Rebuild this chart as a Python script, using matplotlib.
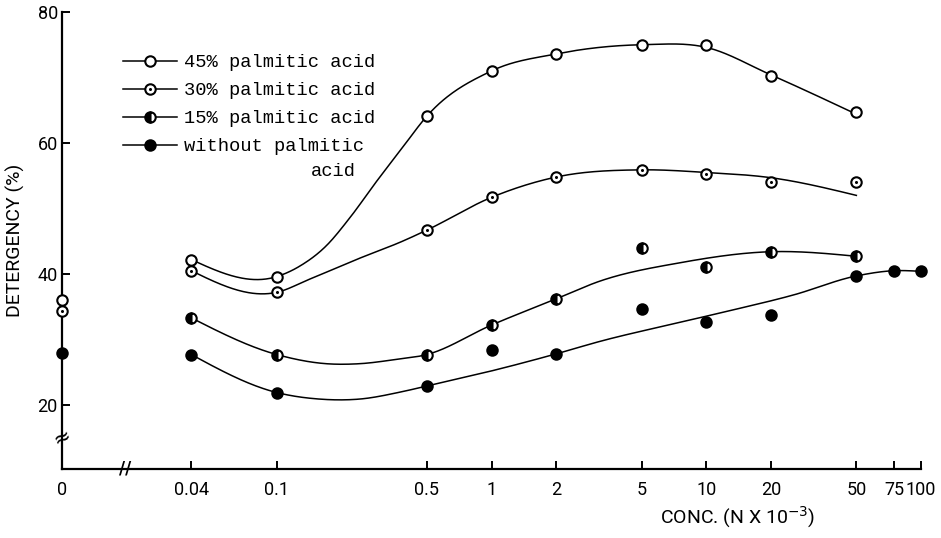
import numpy as np
import matplotlib
matplotlib.use("Agg")
import matplotlib.pyplot as plt
from matplotlib.lines import Line2D

# ---------------- data ----------------
conc = [0, 0.04, 0.1, 0.5, 1, 2, 5, 10, 20, 50]
conc_15 = [0.04, 0.1, 0.5, 1, 2, 5, 10, 20, 50]
conc_0 = [0, 0.04, 0.1, 0.5, 1, 2, 5, 10, 20, 50, 75, 100]

det_45 = [36.0, 42.2, 39.6, 64.1, 71.0, 73.6, 75.0, 74.9, 70.2, 64.7]
det_30 = [34.4, 40.5, 37.2, 46.7, 51.7, 54.8, 55.9, 55.3, 54.0, 54.0]
det_15 = [33.3, 27.7, 27.7, 32.2, 36.2, 43.9, 41.0, 43.4, 42.7]
det_0 = [28.0, 27.7, 21.9, 22.9, 28.4, 27.8, 34.6, 32.6, 33.8, 39.7, 40.5, 40.4]

# hand-drawn trend curves
curve45_x = [0.04, 0.1, 0.128, 0.17, 0.218, 0.291, 0.385, 0.5, 1, 2, 3.19, 5, 10, 20, 50]
curve45_y = [42.2, 39.6, 41.2, 44.3, 48.5, 54.1, 59.3, 64.1, 71.0, 73.6, 74.6, 75.0, 74.6, 70.4, 64.4]
curve30_x = [0.04, 0.1, 0.142, 0.243, 0.385, 0.5, 1, 2, 5, 10, 20, 50]
curve30_y = [40.5, 37.2, 39.2, 42.4, 45.0, 46.7, 51.7, 54.8, 55.9, 55.5, 54.7, 52.0]
curve15_x = [0.04, 0.1, 0.17, 0.243, 0.35, 0.5, 1, 2, 3.19, 7.5, 20, 50]
curve15_y = [33.3, 27.7, 26.3, 26.3, 26.9, 27.7, 32.2, 36.2, 38.9, 41.7, 43.4, 42.7]
curve0_x = [0.04, 0.1, 0.158, 0.243, 0.38, 0.5, 1, 2, 3.19, 7.5, 12.5, 25.5, 50, 75, 100]
curve0_y = [27.7, 21.9, 20.9, 20.9, 22.0, 22.9, 25.2, 27.8, 29.7, 32.6, 34.3, 36.8, 39.7, 40.5, 40.4]

xtick_vals = [0, 0.04, 0.1, 0.5, 1, 2, 5, 10, 20, 50, 75, 100]
xtick_labels = ["0", "0.04", "0.1", "0.5", "1", "2", "5", "10", "20", "50", "75", "100"]
ytick_vals = [20, 40, 60, 80]

labels = ["45% palmitic acid", "30% palmitic acid", "15% palmitic acid", "without palmitic"]

# position on the (broken) log axis where concentration 0 is drawn
ZERO_AT = 0.01
AXFONT = ["Roboto", "DejaVu Sans"]
MONO = ["Liberation Mono", "DejaVu Sans Mono"]


def xpos(c):
    c = np.asarray(c, dtype=float)
    return np.where(c == 0, ZERO_AT, c)


def smooth(xk, yk, n=500):
    """Cubic Hermite curve through knots (log-x), three-point slopes."""
    u = np.log10(np.asarray(xk, float))
    y = np.asarray(yk, float)
    h = np.diff(u)
    d = np.diff(y) / h
    m = np.zeros_like(y)
    for i in range(1, len(y) - 1):
        m[i] = (h[i] * d[i - 1] + h[i - 1] * d[i]) / (h[i - 1] + h[i])
    m[0] = 1.5 * d[0] - 0.5 * m[1]
    m[-1] = 1.5 * d[-1] - 0.5 * m[-2]
    uu = np.linspace(u[0], u[-1], n)
    idx = np.clip(np.searchsorted(u, uu) - 1, 0, len(h) - 1)
    t = (uu - u[idx]) / h[idx]
    h00 = 2 * t**3 - 3 * t**2 + 1
    h10 = t**3 - 2 * t**2 + t
    h01 = -2 * t**3 + 3 * t**2
    h11 = t**3 - t**2
    yy = h00 * y[idx] + h10 * h[idx] * m[idx] + h01 * y[idx + 1] + h11 * h[idx] * m[idx + 1]
    return 10**uu, yy


fig = plt.figure(figsize=(9.41, 5.38), dpi=100)
ax = fig.add_axes([62 / 941, 1 - 468.5 / 538, 859 / 941, (468.5 - 12) / 538])
ax.set_xscale("log")
ax.set_xlim(0.01, 100)
ax.set_ylim(10.3, 80)

lw = 1.1
for cx, cy in [(curve45_x, curve45_y), (curve30_x, curve30_y),
               (curve15_x, curve15_y), (curve0_x, curve0_y)]:
    sx, sy = smooth(cx, cy)
    ax.plot(sx, sy, color="black", lw=lw, zorder=2)

ms = 7.5
mew = 1.5
st45 = dict(marker="o", ms=ms, mfc="white", mec="black", mew=mew, ls="none")
st30 = dict(marker="o", ms=ms, mfc="white", mec="black", mew=mew, ls="none")
st30dot = dict(marker="o", ms=2.2, mfc="black", mec="black", mew=0, ls="none")
st15 = dict(marker="o", ms=ms, mfc="black", mfcalt="white", fillstyle="left",
            mec="black", mew=mew, ls="none")
st0 = dict(marker="o", ms=ms, mfc="black", mec="black", mew=mew, ls="none")

ax.plot(xpos(conc), det_45, clip_on=False, zorder=3, **st45)
ax.plot(xpos(conc), det_30, clip_on=False, zorder=3, **st30)
ax.plot(xpos(conc), det_30, clip_on=False, zorder=4, **st30dot)
ax.plot(xpos(conc_15), det_15, clip_on=False, zorder=3, **st15)
ax.plot(xpos(conc_0), det_0, clip_on=False, zorder=3, **st0)

# axes styling
for s in ["top", "right"]:
    ax.spines[s].set_visible(False)
for s in ["left", "bottom"]:
    ax.spines[s].set_linewidth(1.6)

ax.xaxis.set_minor_locator(matplotlib.ticker.NullLocator())
ax.set_xticks(xpos(xtick_vals))
ax.set_xticklabels(xtick_labels)
ax.set_yticks(ytick_vals)
ax.tick_params(axis="both", direction="in", length=6, width=1.4, labelsize=13,
               colors="black")
ax.tick_params(axis="x", pad=9)
ax.tick_params(axis="y", pad=3)
for lab in ax.get_xticklabels() + ax.get_yticklabels():
    lab.set_family(AXFONT)

ax.set_ylabel("DETERGENCY (%)", fontsize=14, family=AXFONT)
ax.yaxis.set_label_coords(-0.043, 0.5)
ax.set_xlabel(r"CONC. (N X 10$^{-3}$)", fontsize=14, family=AXFONT)
ax.xaxis.set_label_coords(0.787, -0.08)

# axis break marks
ax.text(ZERO_AT, 15.1, "≈", ha="center", va="center", fontsize=15,
        rotation=25, clip_on=False, family="DejaVu Sans")
ax.text(0.0196, 10.3, "//", ha="center", va="center", fontsize=12,
        fontweight="bold", clip_on=False, family="DejaVu Sans")

# legend
h45 = Line2D([], [], color="black", lw=lw, **{k: v for k, v in st45.items() if k != "ls"})
h30a = Line2D([], [], color="black", lw=lw, **{k: v for k, v in st30.items() if k != "ls"})
h30b = Line2D([], [], ls="none", **{k: v for k, v in st30dot.items() if k != "ls"})
h15 = Line2D([], [], color="black", lw=lw, **{k: v for k, v in st15.items() if k != "ls"})
h0 = Line2D([], [], color="black", lw=lw, **{k: v for k, v in st0.items() if k != "ls"})
leg = ax.legend([h45, (h30a, h30b), h15, h0], labels,
                loc="upper left", bbox_to_anchor=(123 / 941, 1 - 54 / 538),
                bbox_transform=fig.transFigure, frameon=False, borderpad=0,
                borderaxespad=0, handlelength=2.9, handletextpad=0.35,
                labelspacing=0.58, prop={"family": MONO, "size": 13.5})
fig.text(311 / 941, 1 - 172 / 538, "acid", ha="left", va="center",
         family=MONO, fontsize=13.5)

fig.savefig("out.png", dpi=100)
